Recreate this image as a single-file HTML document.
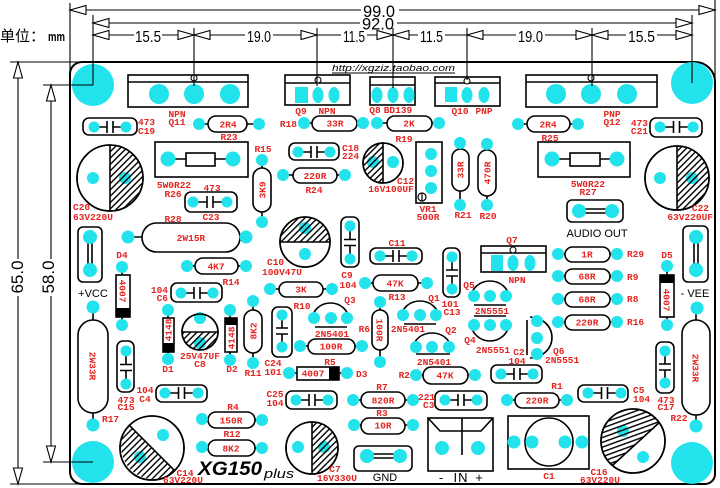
<!DOCTYPE html>
<html><head><meta charset="utf-8"><style>
html,body{margin:0;padding:0;background:#fff;}
svg{display:block}
.p{fill:#22e2ec}
.o{fill:none;stroke:#000;stroke-width:1.6}
.w{fill:#fff;stroke:#000;stroke-width:1.6}
.l{stroke:#000;stroke-width:1.6;fill:none}
.d{stroke:#000;stroke-width:1.1;fill:none}
.a{fill:#fff;stroke:#000;stroke-width:1.1}
.t{font-family:"Liberation Mono",monospace;font-size:9.5px;fill:#e42521;font-weight:bold}
.c{text-anchor:middle}
.e{text-anchor:end}
.k{font-family:"Liberation Sans",sans-serif;fill:#000}
.h{fill:url(#h)}
.h2{fill:url(#h2)}
</style></head><body>
<svg width="720" height="488" viewBox="0 0 720 488">
<defs>
<pattern id="h" patternUnits="userSpaceOnUse" width="4.5" height="4.5" patternTransform="rotate(45)"><rect width="1.4" height="4.5" fill="#000"/></pattern>
<pattern id="h2" patternUnits="userSpaceOnUse" width="4.5" height="4.5" patternTransform="rotate(70)"><rect width="1.4" height="4.5" fill="#000"/></pattern>
</defs>
<rect width="720" height="488" fill="#fff"/>

<!-- board outline -->
<path d="M82,62 H695 A20,20 0 0 1 715,82 V474 A10,10 0 0 1 705,484 H82 A12,12 0 0 1 70,472 V74 A12,12 0 0 1 82,62 Z" fill="none" stroke="#000" stroke-width="2"/>

<!-- big mounting pads -->
<circle class="p" cx="93" cy="85" r="21"/>
<circle class="p" cx="692" cy="83" r="21"/>
<circle class="p" cx="93" cy="462" r="21"/>
<circle class="p" cx="692" cy="463" r="21"/>

<!-- Q11 -->
<rect class="w" x="128" y="75" width="120" height="32"/>
<line class="l" x1="128" y1="82" x2="248" y2="82"/>
<circle class="p" cx="159" cy="94" r="10"/><circle class="p" cx="194" cy="94" r="10"/><circle class="p" cx="230" cy="94" r="10"/>
<circle class="a" cx="194" cy="78" r="3"/>
<!-- Q12 -->
<rect class="w" x="526" y="75" width="131" height="32"/>
<line class="l" x1="526" y1="82" x2="657" y2="82"/>
<circle class="p" cx="556" cy="94" r="10"/><circle class="p" cx="591" cy="94" r="10"/><circle class="p" cx="627" cy="94" r="10"/>
<circle class="a" cx="591" cy="78" r="3"/>
<!-- Q9 -->
<rect class="w" x="285" y="75" width="65" height="30"/>
<line class="l" x1="285" y1="83" x2="350" y2="83"/>
<rect class="p" x="295" y="87" width="13" height="16"/>
<ellipse class="p" cx="318" cy="95" rx="5.5" ry="8"/><ellipse class="p" cx="334" cy="95" rx="5.5" ry="8"/>
<circle class="a" cx="318" cy="80" r="3"/>
<!-- Q8 -->
<rect class="w" x="370" y="77" width="45" height="28"/>
<line class="l" x1="370" y1="85" x2="415" y2="85"/>
<ellipse class="p" cx="377" cy="95" rx="5.5" ry="8"/><ellipse class="p" cx="393" cy="95" rx="5.5" ry="8"/><ellipse class="p" cx="409" cy="95" rx="5.5" ry="8"/>
<!-- Q10 -->
<rect class="w" x="435" y="77" width="65" height="29"/>
<line class="l" x1="435" y1="83" x2="500" y2="83"/>
<rect class="p" x="445" y="87" width="12" height="15"/>
<ellipse class="p" cx="467" cy="95" rx="5.5" ry="8"/><ellipse class="p" cx="484" cy="95" rx="5.5" ry="8"/>
<circle class="a" cx="467" cy="81" r="3"/>
<!-- Q7 -->
<rect class="w" x="481" y="246" width="65" height="26"/>
<line class="l" x1="481" y1="253" x2="546" y2="253"/>
<rect class="p" x="491" y="255" width="12" height="16"/>
<ellipse class="p" cx="513" cy="263" rx="5.5" ry="8"/><ellipse class="p" cx="530" cy="263" rx="5.5" ry="8"/>
<circle class="a" cx="513" cy="250" r="3"/>

<!-- horizontal resistors -->
<g>
<line class="l" x1="199" y1="124" x2="259" y2="124"/><rect class="w" x="208" y="116" width="39" height="16" rx="8"/><circle class="p" cx="199" cy="124" r="6"/><circle class="p" cx="259" cy="124" r="6"/>
<line class="l" x1="304" y1="123" x2="363" y2="123"/><rect class="w" x="312" y="116" width="45" height="15" rx="7.5"/><circle class="p" cx="304" cy="123" r="6"/><circle class="p" cx="363" cy="123" r="6"/>
<line class="l" x1="377" y1="123" x2="439" y2="123"/><rect class="w" x="387" y="116" width="45" height="15" rx="7.5"/><circle class="p" cx="377" cy="123" r="6"/><circle class="p" cx="439" cy="123" r="6"/>
<line class="l" x1="518" y1="124" x2="578" y2="124"/><rect class="w" x="527" y="116" width="43" height="16" rx="8"/><circle class="p" cx="518" cy="124" r="6"/><circle class="p" cx="578" cy="124" r="6"/>
<line class="l" x1="283" y1="175" x2="345" y2="175"/><rect class="w" x="293" y="168" width="44" height="15" rx="7.5"/><circle class="p" cx="283" cy="175" r="6"/><circle class="p" cx="345" cy="175" r="6"/>
<line class="l" x1="128" y1="237" x2="246" y2="237"/><rect class="w" x="142" y="223" width="98" height="29" rx="14.5"/><circle class="p" cx="128" cy="237" r="6.5"/><circle class="p" cx="246" cy="237" r="6.5"/>
<line class="l" x1="187" y1="266" x2="246" y2="266"/><rect class="w" x="195" y="258" width="43" height="16" rx="8"/><circle class="p" cx="187" cy="266" r="6"/><circle class="p" cx="246" cy="266" r="6"/>
<line class="l" x1="270" y1="289" x2="332" y2="289"/><rect class="w" x="279" y="282" width="44" height="15" rx="7.5"/><circle class="p" cx="270" cy="289" r="6"/><circle class="p" cx="332" cy="289" r="6"/>
<line class="l" x1="365" y1="283" x2="427" y2="283"/><rect class="w" x="373" y="275" width="45" height="16" rx="8"/><circle class="p" cx="365" cy="283" r="6"/><circle class="p" cx="427" cy="283" r="6"/>
<line class="l" x1="558" y1="254" x2="617" y2="254"/><rect class="w" x="565" y="247" width="45" height="15" rx="7.5"/><circle class="p" cx="558" cy="254" r="6"/><circle class="p" cx="617" cy="254" r="6"/>
<line class="l" x1="558" y1="276" x2="617" y2="276"/><rect class="w" x="565" y="269" width="45" height="15" rx="7.5"/><circle class="p" cx="558" cy="276" r="6"/><circle class="p" cx="617" cy="276" r="6"/>
<line class="l" x1="558" y1="299" x2="617" y2="299"/><rect class="w" x="565" y="292" width="45" height="15" rx="7.5"/><circle class="p" cx="558" cy="299" r="6"/><circle class="p" cx="617" cy="299" r="6"/>
<line class="l" x1="558" y1="322" x2="617" y2="322"/><rect class="w" x="565" y="315" width="45" height="15" rx="7.5"/><circle class="p" cx="558" cy="322" r="6"/><circle class="p" cx="617" cy="322" r="6"/>
<line class="l" x1="300" y1="346" x2="362" y2="346"/><rect class="w" x="308" y="339" width="47" height="15" rx="7.5"/><circle class="p" cx="300" cy="346" r="6"/><circle class="p" cx="362" cy="346" r="6"/>
<line class="l" x1="416" y1="375" x2="475" y2="375"/><rect class="w" x="423" y="367" width="45" height="17" rx="8.5"/><circle class="p" cx="416" cy="375" r="6"/><circle class="p" cx="475" cy="375" r="6"/>
<line class="l" x1="507" y1="400" x2="567" y2="400"/><rect class="w" x="515" y="393" width="44" height="15" rx="7.5"/><circle class="p" cx="507" cy="400" r="6"/><circle class="p" cx="567" cy="400" r="6"/>
<line class="l" x1="353" y1="400" x2="413" y2="400"/><rect class="w" x="361" y="392" width="44" height="16" rx="8"/><circle class="p" cx="353" cy="400" r="6"/><circle class="p" cx="413" cy="400" r="6"/>
<line class="l" x1="354" y1="425" x2="413" y2="425"/><rect class="w" x="361" y="418" width="44" height="16" rx="8"/><circle class="p" cx="354" cy="425" r="6"/><circle class="p" cx="413" cy="425" r="6"/>
<line class="l" x1="202" y1="420" x2="262" y2="420"/><rect class="w" x="208" y="412" width="47" height="16" rx="8"/><circle class="p" cx="202" cy="419" r="6"/><circle class="p" cx="262" cy="420" r="6"/>
<line class="l" x1="202" y1="448" x2="262" y2="448"/><rect class="w" x="208" y="440" width="47" height="16" rx="8"/><circle class="p" cx="202" cy="447" r="6"/><circle class="p" cx="262" cy="448" r="6"/>
</g>

<!-- vertical resistors -->
<g>
<line class="l" x1="262" y1="160" x2="262" y2="222"/><rect class="w" x="253" y="168" width="18" height="44" rx="9"/><circle class="p" cx="262" cy="160" r="6"/><circle class="p" cx="262" cy="222" r="6"/>
<line class="l" x1="460" y1="143" x2="460" y2="205"/><rect class="w" x="452" y="149" width="17" height="42" rx="8.5"/><circle class="p" cx="460" cy="143" r="6"/><circle class="p" cx="460" cy="205" r="6"/>
<line class="l" x1="487" y1="144" x2="487" y2="205"/><rect class="w" x="478" y="150" width="18" height="46" rx="9"/><circle class="p" cx="487" cy="144" r="6"/><circle class="p" cx="487" cy="205" r="6"/>
<line class="l" x1="253" y1="301" x2="253" y2="363"/><rect class="w" x="244" y="310" width="18" height="43" rx="9"/><circle class="p" cx="253" cy="301" r="6"/><circle class="p" cx="253" cy="363" r="6"/>
<line class="l" x1="380" y1="302" x2="380" y2="362"/><rect class="w" x="372" y="310" width="16" height="40" rx="8"/><circle class="p" cx="380" cy="302" r="6"/><circle class="p" cx="380" cy="362" r="6"/>
<line class="l" x1="93" y1="307" x2="93" y2="425"/><rect class="w" x="78" y="320" width="30" height="93" rx="15"/><circle class="p" cx="93" cy="307" r="6.5"/><circle class="p" cx="93" cy="425" r="6.5"/>
<line class="l" x1="696" y1="308" x2="696" y2="426"/><rect class="w" x="682" y="320" width="28" height="95" rx="14"/><circle class="p" cx="697" cy="308" r="6.5"/><circle class="p" cx="696" cy="426" r="6.5"/>
</g>

<!-- 5W resistors -->
<rect class="o" x="155" y="142" width="93" height="35"/>
<line class="l" x1="168" y1="159" x2="233" y2="159"/>
<rect class="w" x="186" y="153" width="29" height="13"/>
<circle class="p" cx="168" cy="159" r="7.5"/><circle class="p" cx="233" cy="159" r="7.5"/>
<rect class="o" x="538" y="142" width="92" height="35"/>
<line class="l" x1="552" y1="159" x2="617" y2="159"/>
<rect class="w" x="570" y="153" width="30" height="13"/>
<circle class="p" cx="552" cy="159" r="7.5"/><circle class="p" cx="617" cy="159" r="7.5"/>

<!-- horizontal caps -->
<g>
<rect class="o" x="83" y="118" width="54" height="17" rx="6"/><path class="l" d="M94,127H107M107,121V133M113,121V133M113,127H126"/><circle class="p" cx="94" cy="127" r="5.5"/><circle class="p" cx="126" cy="127" r="5.5"/>
<rect class="o" x="650" y="118" width="52" height="19" rx="6"/><path class="l" d="M660,127H673.5M673.5,121V133M679.5,121V133M679.5,127H693"/><circle class="p" cx="660" cy="127" r="5.5"/><circle class="p" cx="693" cy="127" r="5.5"/>
<rect class="o" x="289" y="143" width="50" height="17" rx="6"/><path class="l" d="M298,152H311M311,146V158M317,146V158M317,152H330"/><circle class="p" cx="298" cy="152" r="5.5"/><circle class="p" cx="330" cy="152" r="5.5"/>
<rect class="o" x="185" y="192" width="52" height="20" rx="6"/><path class="l" d="M193,202H207M207,196V208M213,196V208M213,202H227"/><circle class="p" cx="193" cy="202" r="5.5"/><circle class="p" cx="227" cy="202" r="5.5"/>
<rect class="o" x="370" y="248" width="52" height="16" rx="6"/><path class="l" d="M380,256H393M393,250V262M399,250V262M399,256H412"/><circle class="p" cx="380" cy="256" r="5.5"/><circle class="p" cx="412" cy="256" r="5.5"/>
<rect class="o" x="171" y="283" width="51" height="19" rx="6"/><path class="l" d="M181,293H194M194,287V299M200,287V299M200,293H213"/><circle class="p" cx="181" cy="293" r="5.5"/><circle class="p" cx="213" cy="293" r="5.5"/>
<rect class="o" x="491" y="365" width="51" height="18" rx="6"/><path class="l" d="M501,374H514M514,368V380M520,368V380M520,374H533"/><circle class="p" cx="501" cy="374" r="5.5"/><circle class="p" cx="533" cy="374" r="5.5"/>
<rect class="o" x="578" y="385" width="50" height="17" rx="6"/><path class="l" d="M588,393H601.5M601.5,387V399M607.5,387V399M607.5,393H621"/><circle class="p" cx="588" cy="393" r="5.5"/><circle class="p" cx="621" cy="393" r="5.5"/>
<rect class="o" x="156" y="385" width="51" height="17" rx="6"/><path class="l" d="M165,393H178.5M178.5,387V399M184.5,387V399M184.5,393H198"/><circle class="p" cx="165" cy="393" r="5.5"/><circle class="p" cx="198" cy="393" r="5.5"/>
<rect class="o" x="286" y="391" width="51" height="18" rx="6"/><path class="l" d="M296,400H309M309,394V406M315,394V406M315,400H328"/><circle class="p" cx="296" cy="400" r="5.5"/><circle class="p" cx="328" cy="400" r="5.5"/>
<rect class="o" x="435" y="391" width="52" height="19" rx="6"/><path class="l" d="M445,400H458M458,394V406M464,394V406M464,400H477"/><circle class="p" cx="445" cy="400" r="5.5"/><circle class="p" cx="477" cy="400" r="5.5"/>
</g>
<!-- vertical caps -->
<g>
<rect class="o" x="341" y="217" width="18" height="50" rx="6"/><path class="l" d="M350,226V239.5M344,239.5H356M344,245.5H356M350,245.5V259"/><circle class="p" cx="350" cy="226" r="5.5"/><circle class="p" cx="350" cy="259" r="5.5"/>
<rect class="o" x="443" y="248" width="17" height="49" rx="6"/><path class="l" d="M452,257V270M446,270H458M446,276H458M452,276V289"/><circle class="p" cx="452" cy="257" r="5.5"/><circle class="p" cx="452" cy="289" r="5.5"/>
<rect class="o" x="272" y="307" width="20" height="50" rx="6"/><path class="l" d="M282,315V328M276,328H288M276,334H288M282,334V347"/><circle class="p" cx="282" cy="315" r="5.5"/><circle class="p" cx="282" cy="347" r="5.5"/>
<rect class="o" x="117" y="341" width="17" height="51" rx="6"/><path class="l" d="M126,351V364.5M120,364.5H132M120,370.5H132M126,370.5V384"/><circle class="p" cx="126" cy="351" r="5.5"/><circle class="p" cx="126" cy="384" r="5.5"/>
<rect class="o" x="656" y="342" width="18" height="51" rx="6"/><path class="l" d="M665,351V364M659,364H671M659,370H671M665,370V383"/><circle class="p" cx="665" cy="351" r="5.5"/><circle class="p" cx="665" cy="383" r="5.5"/>
</g>

<!-- diodes -->
<line class="l" x1="122" y1="267" x2="122" y2="325"/><rect class="w" x="116" y="275" width="14" height="42"/><rect x="116" y="308" width="14" height="9" fill="#000"/><circle class="p" cx="122" cy="267" r="6"/><circle class="p" cx="122" cy="325" r="6"/>
<line class="l" x1="667" y1="266" x2="667" y2="325"/><rect class="w" x="660" y="275" width="14" height="42"/><rect x="660" y="275" width="14" height="8" fill="#000"/><circle class="p" cx="667" cy="266" r="6"/><circle class="p" cx="667" cy="325" r="6"/>
<line class="l" x1="168" y1="310" x2="168" y2="359"/><rect class="w" x="163" y="318" width="11" height="34"/><rect x="163" y="343" width="11" height="9" fill="#000"/><circle class="p" cx="168" cy="310" r="6"/><circle class="p" cx="168" cy="359" r="6"/>
<line class="l" x1="230" y1="310" x2="230" y2="360"/><rect class="w" x="225" y="318" width="12" height="34"/><rect x="225" y="318" width="12" height="7" fill="#000"/><circle class="p" cx="230" cy="310" r="6"/><circle class="p" cx="230" cy="360" r="6"/>
<line class="l" x1="289" y1="373" x2="347" y2="373"/><rect class="w" x="297" y="367" width="42" height="13"/><rect x="329" y="367" width="10" height="13" fill="#000"/><circle class="p" cx="289" cy="373" r="6"/><circle class="p" cx="347" cy="373" r="6"/>

<!-- electrolytic caps -->
<circle class="w" cx="110" cy="178" r="33"/>
<circle class="p" cx="93" cy="178" r="6"/><circle class="p" cx="125" cy="178" r="6"/>
<path class="h" d="M110,145 A33,33 0 0 1 110,211 Z"/><line class="l" x1="110" y1="145" x2="110" y2="211"/><circle class="o" cx="110" cy="178" r="33"/>

<circle class="w" cx="677" cy="178" r="32"/>
<circle class="p" cx="660" cy="178" r="6"/><circle class="p" cx="692" cy="178" r="6"/>
<path class="h" d="M677,146 A32,32 0 0 1 677,210 Z"/><line class="l" x1="677" y1="146" x2="677" y2="210"/><circle class="o" cx="677" cy="178" r="32"/>

<circle class="w" cx="383" cy="163" r="20"/>
<circle class="p" cx="373" cy="162" r="6"/><circle class="p" cx="393" cy="162" r="6"/>
<path class="h" d="M383,143 A20,20 0 0 0 383,183 Z"/><line class="l" x1="383" y1="143" x2="383" y2="183"/><circle class="o" cx="383" cy="163" r="20"/>

<circle class="w" cx="305" cy="242" r="25"/>
<circle class="p" cx="305" cy="228" r="6"/><circle class="p" cx="305" cy="254" r="6"/>
<path class="h" d="M280,242 A25,25 0 0 1 330,242 Z"/><line class="l" x1="280" y1="242" x2="330" y2="242"/><circle class="o" cx="305" cy="242" r="25"/>

<circle class="w" cx="200" cy="332" r="18"/>
<circle class="p" cx="200" cy="318" r="6"/><circle class="p" cx="200" cy="343" r="6"/>
<path class="h" d="M182,332 A18,18 0 0 0 218,332 Z"/><line class="l" x1="182" y1="332" x2="218" y2="332"/><circle class="o" cx="200" cy="332" r="18"/>

<circle class="w" cx="152" cy="448" r="32"/>
<circle class="p" cx="163" cy="435" r="6"/><circle class="p" cx="140" cy="457" r="6"/>
<path class="h" d="M129.4,425.4 A32,32 0 0 0 174.6,470.6 Z"/><line class="l" x1="129.4" y1="425.4" x2="174.6" y2="470.6"/><circle class="o" cx="152" cy="448" r="32"/>

<circle class="w" cx="312" cy="448" r="26"/>
<circle class="p" cx="298" cy="447" r="6"/><circle class="p" cx="324" cy="447" r="6"/>
<path class="h" d="M312,422 A26,26 0 0 1 312,474 Z"/><line class="l" x1="312" y1="422" x2="312" y2="474"/><circle class="o" cx="312" cy="448" r="26"/>

<circle class="w" cx="633" cy="441" r="32"/>
<circle class="p" cx="623" cy="431" r="6"/><circle class="p" cx="643" cy="457" r="6"/>
<path class="h2" d="M612.4,465.5 A32,32 0 1 1 659.2,422.6 Z"/><line class="l" x1="612.4" y1="465.5" x2="659.2" y2="422.6"/><circle class="o" cx="633" cy="441" r="32"/>

<!-- VR1 -->
<rect class="o" x="416" y="142" width="26" height="61"/>
<circle class="p" cx="431" cy="154" r="6"/><circle class="p" cx="431" cy="171" r="6"/><circle class="p" cx="431" cy="188" r="6"/>
<circle class="o" cx="422" cy="197" r="4" style="stroke-width:1.2"/><line class="l" x1="422" y1="193" x2="422" y2="201" style="stroke-width:1.2"/>

<!-- jumpers -->
<rect class="o" x="78" y="227" width="24" height="55" rx="5"/><path class="l" d="M88,237V270M92,237V270"/><circle class="p" cx="90" cy="237" r="7"/><circle class="p" cx="90" cy="270" r="7"/>
<rect class="o" x="683" y="226" width="25" height="56" rx="5"/><path class="l" d="M694,237V270M698,237V270"/><circle class="p" cx="696" cy="237" r="7"/><circle class="p" cx="696" cy="270" r="7"/>
<rect class="o" x="567" y="200" width="56" height="22" rx="5"/><path class="l" d="M579,209H612M579,213H612"/><circle class="p" cx="579" cy="211" r="7"/><circle class="p" cx="612" cy="211" r="7"/>
<rect class="o" x="354" y="446" width="58" height="25" rx="5"/><path class="l" d="M367,454H400M367,458H400"/><circle class="p" cx="367" cy="456" r="7"/><circle class="p" cx="400" cy="456" r="7"/>

<!-- TO-92 transistors -->
<path class="l" d="M401,318 A19,17 0 0 1 439,318M404,324H436"/><circle class="p" cx="403" cy="315" r="6"/><circle class="p" cx="420" cy="315" r="6"/><circle class="p" cx="436" cy="315" r="6"/>
<path class="l" d="M312,320 A18.5,17 0 0 1 349,320M315,327H347"/><circle class="p" cx="314" cy="318" r="6"/><circle class="p" cx="331" cy="318" r="6"/><circle class="p" cx="347" cy="318" r="6"/>
<path class="l" d="M413,349 A19,16 0 0 1 451,349M416,354H450"/><circle class="p" cx="416" cy="347" r="6"/><circle class="p" cx="432" cy="347" r="6"/><circle class="p" cx="449" cy="347" r="6"/>
<path class="l" d="M471,298 A19,17 0 0 1 509,298M474,305H506"/><circle class="p" cx="474" cy="296" r="6"/><circle class="p" cx="490" cy="296" r="6"/><circle class="p" cx="506" cy="296" r="6"/>
<path class="l" d="M471,323 A19,18 0 0 0 509,323M474,316H506"/><circle class="p" cx="474" cy="325" r="6"/><circle class="p" cx="490" cy="325" r="6"/><circle class="p" cx="506" cy="325" r="6"/>
<path class="l" d="M530,317 A22,20.5 0 0 1 530,358M527,320V355"/><circle class="p" cx="537" cy="321" r="6"/><circle class="p" cx="537" cy="338" r="6"/><circle class="p" cx="537" cy="354" r="6"/>

<!-- IN connector -->
<rect class="o" x="428" y="418" width="65" height="53"/>
<path class="l" d="M428,418 L440,431 H481 L493,418 M462,418 V455"/>
<circle class="p" cx="442" cy="448" r="7"/><circle class="p" cx="478" cy="448" r="7"/>

<!-- C1 -->
<rect class="o" x="508" y="416" width="81" height="53"/>
<circle class="o" cx="549" cy="442" r="24"/>
<circle class="p" cx="514" cy="442" r="6.5"/><circle class="p" cx="532" cy="442" r="6.5"/><circle class="p" cx="565" cy="442" r="6.5"/><circle class="p" cx="582" cy="442" r="6.5"/>

<!-- red labels -->
<g class="t">
<text class="c" x="177" y="117">NPN</text><text class="c" x="177" y="125">Q11</text>
<text x="138" y="125">473</text><text x="138" y="134">C19</text>
<text class="c" x="229" y="140">R23</text>
<text class="c" x="174" y="188">5W0R22</text><text class="c" x="173" y="197">R26</text><text class="c" x="212" y="191">473</text>
<text class="c" x="211" y="220">C23</text>
<text x="73" y="210">C20</text><text x="73" y="220">63V220U</text>
<text class="c" x="263" y="152">R15</text>
<text class="e" x="297" y="127">R18</text>
<text class="c" x="301" y="114">Q9</text><text class="c" x="327" y="114">NPN</text>
<text class="c" x="375" y="113">Q8</text><text class="c" x="398" y="113">BD139</text>
<text class="c" x="460" y="114">Q10</text><text class="c" x="484" y="114">PNP</text>
<text class="c" x="612" y="117">PNP</text><text class="c" x="612" y="125">Q12</text>
<text class="c" x="404" y="142">R19</text>
<text x="342" y="151">C18</text><text x="342" y="159">224</text>
<text class="c" x="314" y="193">R24</text>
<text x="397" y="184">C12</text><text class="c" x="391" y="192">16V100UF</text>
<text class="c" x="428" y="212">VR1</text><text class="c" x="428" y="220">500R</text>
<text class="c" x="463" y="218">R21</text><text class="c" x="488" y="219">R20</text>
<text class="c" x="550" y="141">R25</text>
<text class="e" x="648" y="126">473</text><text class="e" x="648" y="134">C21</text>
<text class="c" x="588" y="187">5W0R22</text><text class="c" x="588" y="195">R27</text>
<text class="e" x="709" y="211">C22</text><text class="e" x="713" y="220">63V220UF</text>
<text class="c" x="173" y="222">R28</text>
<text class="c" x="122" y="258">D4</text>
<text class="c" x="231" y="285">R14</text>
<text class="e" x="168" y="293">104</text><text class="e" x="168" y="301">C6</text>
<text x="267" y="265">C10</text><text x="262" y="275">100V47U</text>
<text class="c" x="347" y="278">C9</text><text class="c" x="348" y="288">104</text>
<text class="c" x="397" y="246">C11</text>
<text class="c" x="397" y="300">R13</text>
<text class="c" x="302" y="309">R10</text>
<text class="c" x="450" y="307">101</text><text class="c" x="452" y="315">C13</text>
<text class="c" x="434" y="301">Q1</text><text class="c" x="408" y="332">2N5401</text>
<text class="c" x="350" y="303">Q3</text><text class="c" x="332" y="337">2N5401</text>
<text class="e" x="370" y="332">R6</text>
<text class="c" x="451" y="333">Q2</text><text class="c" x="434" y="365">2N5401</text>
<text class="c" x="469" y="288">Q5</text><text class="c" x="492" y="314">2N5551</text>
<text class="c" x="470" y="343">Q4</text><text class="c" x="493" y="353">2N5551</text>
<text x="553" y="354">Q6</text><text x="545" y="363">2N5551</text>
<text class="c" x="512" y="243">Q7</text><text class="c" x="517" y="283">NPN</text>
<text x="627" y="257">R29</text><text x="627" y="280">R9</text><text x="627" y="302">R8</text><text x="627" y="325">R16</text>
<text class="c" x="667" y="258">D5</text>
<text class="c" x="200" y="359">25V47UF</text><text class="c" x="200" y="367">C8</text>
<text class="c" x="168" y="372">D1</text><text class="c" x="232" y="372">D2</text>
<text class="c" x="253" y="376">R11</text>
<text class="c" x="273" y="366">C24</text><text class="c" x="273" y="375">101</text>
<text class="c" x="330" y="365">R5</text>
<text x="356" y="377">D3</text>
<text class="e" x="410" y="378">R2</text>
<text class="c" x="519" y="355">C2</text><text class="c" x="517" y="364">104</text>
<text class="c" x="557" y="389">R1</text>
<text x="633" y="393">C5</text><text x="633" y="402">104</text>
<text class="c" x="666" y="403">473</text><text class="c" x="666" y="410">C17</text>
<text class="c" x="679" y="421">R22</text>
<text class="c" x="126" y="403">473</text><text class="c" x="126" y="410">C15</text>
<text class="c" x="145" y="393">104</text><text class="c" x="145" y="402">C4</text>
<text x="102" y="422">R17</text>
<text class="c" x="233" y="410">R4</text><text class="c" x="232" y="437">R12</text>
<text class="c" x="275" y="397">C25</text><text class="c" x="275" y="406">104</text>
<text class="c" x="382" y="390">R7</text>
<text x="418" y="400">221</text><text x="423" y="408">C3</text>
<text class="c" x="382" y="416">R3</text>
<text class="c" x="185" y="476">C14</text><text class="c" x="183" y="483">63V220U</text>
<text class="c" x="335" y="472">C7</text><text class="c" x="337" y="481">16V330U</text>
<text class="c" x="549" y="479">C1</text>
<text class="c" x="599" y="475">C16</text><text class="c" x="600" y="483">63V220U</text>
<!-- body values -->
<text class="c" x="228" y="127.5">2R4</text>
<text class="c" x="335" y="126.5">33R</text>
<text class="c" x="409" y="126.5">2K</text>
<text class="c" x="548" y="127.5">2R4</text>
<text class="c" x="315" y="179">220R</text>
<text class="c" x="191" y="241">2W15R</text>
<text class="c" x="216" y="269.5">4K7</text>
<text class="c" x="301" y="292.5">3K</text>
<text class="c" x="395" y="286.5">47K</text>
<text class="c" x="587" y="257.5">1R</text>
<text class="c" x="587" y="279.5">68R</text>
<text class="c" x="587" y="302.5">68R</text>
<text class="c" x="587" y="325.5">220R</text>
<text class="c" x="331" y="349.5">100R</text>
<text class="c" x="445" y="378.5">47K</text>
<text class="c" x="537" y="403.5">220R</text>
<text class="c" x="383" y="403.5">820R</text>
<text class="c" x="383" y="428.5">10R</text>
<text class="c" x="231" y="423.5">150R</text>
<text class="c" x="231" y="451.5">8K2</text>
<text class="c" x="313" y="376.5">4007</text>
<text class="c" transform="translate(262,190) rotate(-90)" y="3.3">3K9</text>
<text class="c" transform="translate(460,170) rotate(-90)" y="3.3">33R</text>
<text class="c" transform="translate(487,173) rotate(-90)" y="3.3">470R</text>
<text class="c" transform="translate(253,331) rotate(-90)" y="3.3">8K2</text>
<text class="c" transform="translate(380,330) rotate(90)" y="3.3">100R</text>
<text class="c" transform="translate(93,366) rotate(90)" y="3.3">2W33R</text>
<text class="c" transform="translate(696,368) rotate(90)" y="3.3">2W33R</text>
<text class="c" transform="translate(123,291) rotate(90)" y="3.3">4007</text>
<text class="c" transform="translate(667,300) rotate(90)" y="3.3">4007</text>
<text class="c" transform="translate(168,330) rotate(-90)" y="3.3">4148</text>
<text class="c" transform="translate(231,338) rotate(-90)" y="3.3">4148</text>
</g>

<!-- black labels -->
<g class="k">
<text x="597" y="237" text-anchor="middle" font-size="11">AUDIO OUT</text>
<text x="93" y="297" text-anchor="middle" font-size="11">+VCC</text>
<text x="695" y="297" text-anchor="middle" font-size="11">- VEE</text>
<text x="385" y="481" text-anchor="middle" font-size="11">GND</text>
<text x="441" y="482" text-anchor="middle" font-size="13">-</text>
<text x="461" y="482" text-anchor="middle" font-size="13" letter-spacing="1">IN</text>
<text x="479" y="482" text-anchor="middle" font-size="13">+</text>
<text x="198" y="475" font-size="19" font-weight="bold" font-style="italic" textLength="64" lengthAdjust="spacingAndGlyphs">XG150</text>
<text x="264" y="478" font-size="13" font-style="italic" textLength="30" lengthAdjust="spacingAndGlyphs">plus</text>
<text x="332" y="71" font-size="9" font-style="italic" textLength="123" lengthAdjust="spacingAndGlyphs">http://xgziz.taobao.com</text>
</g>
<line x1="332" y1="73" x2="455" y2="73" stroke="#000" stroke-width="0.9"/>

<!-- dimension lines -->
<g class="d">
<line x1="70" y1="3" x2="70" y2="74"/>
<line x1="10" y1="62" x2="82" y2="62"/>
<line x1="10" y1="484" x2="82" y2="484"/>
<line x1="715" y1="0" x2="715" y2="82"/>
<line x1="93" y1="15" x2="93" y2="85"/>
<line x1="194" y1="28" x2="194" y2="86"/>
<line x1="317" y1="28" x2="317" y2="86"/>
<line x1="393" y1="28" x2="393" y2="88"/>
<line x1="467" y1="28" x2="467" y2="80"/>
<line x1="592" y1="28" x2="592" y2="86"/>
<line x1="692" y1="15" x2="692" y2="83"/>
<line x1="43" y1="85" x2="93" y2="85"/>
<line x1="43" y1="462" x2="93" y2="462"/>
<path d="M70,10H361M399,10H715"/>
<path d="M93,23H360M397,23H692"/>
<path d="M93,35H134M162,35H245M273,35H341M367,35H418M445,35H516M545,35H626M657,35H692"/>
<path d="M18,62V259M18,296V484"/>
<path d="M51,85V259M51,296V462"/>
</g>
<g class="a">
<polygon points="70,10 86,5.5 86,14.5"/>
<polygon points="715,10 699,5.5 699,14.5"/>
<polygon points="93,23 109,18.5 109,27.5"/>
<polygon points="692,23 676,18.5 676,27.5"/>
<polygon points="93,35 109,30.5 109,39.5"/>
<polygon points="194,35 178,30.5 178,39.5"/>
<polygon points="194,35 210,30.5 210,39.5"/>
<polygon points="317,35 301,30.5 301,39.5"/>
<polygon points="393,35 377,30.5 377,39.5"/>
<polygon points="393,35 409,30.5 409,39.5"/>
<polygon points="467,35 483,30.5 483,39.5"/>
<polygon points="592,35 576,30.5 576,39.5"/>
<polygon points="592,35 608,30.5 608,39.5"/>
<polygon points="692,35 676,30.5 676,39.5"/>
<polygon points="18,62 13.5,78 22.5,78"/>
<polygon points="18,484 13.5,468 22.5,468"/>
<polygon points="51,85 46.5,101 55.5,101"/>
<polygon points="51,462 46.5,446 55.5,446"/>
</g>
<g class="k" font-size="16">
<text x="363" y="17" font-size="17" textLength="32" lengthAdjust="spacingAndGlyphs">99.0</text>
<text x="362" y="29.5" font-size="17" textLength="32" lengthAdjust="spacingAndGlyphs">92.0</text>
<text x="135" y="42" textLength="26" lengthAdjust="spacingAndGlyphs">15.5</text>
<text x="247" y="42" textLength="24" lengthAdjust="spacingAndGlyphs">19.0</text>
<text x="343" y="42" textLength="22" lengthAdjust="spacingAndGlyphs">11.5</text>
<text x="420" y="42" textLength="23" lengthAdjust="spacingAndGlyphs">11.5</text>
<text x="518" y="42" textLength="25" lengthAdjust="spacingAndGlyphs">19.0</text>
<text x="628" y="42" textLength="27" lengthAdjust="spacingAndGlyphs">15.5</text>
<text transform="translate(23,277) rotate(-90)" text-anchor="middle" font-size="17">65.0</text>
<text transform="translate(54,277) rotate(-90)" text-anchor="middle" font-size="17">58.0</text>
</g>
<text x="0" y="41" font-family="'Liberation Sans','Noto Sans CJK SC',sans-serif" font-size="15" fill="#000">单位：</text>
<text x="48" y="41" font-family="'Liberation Sans',sans-serif" font-size="13" font-weight="bold" fill="#000" textLength="17" lengthAdjust="spacingAndGlyphs">mm</text>
</svg>
</body></html>
